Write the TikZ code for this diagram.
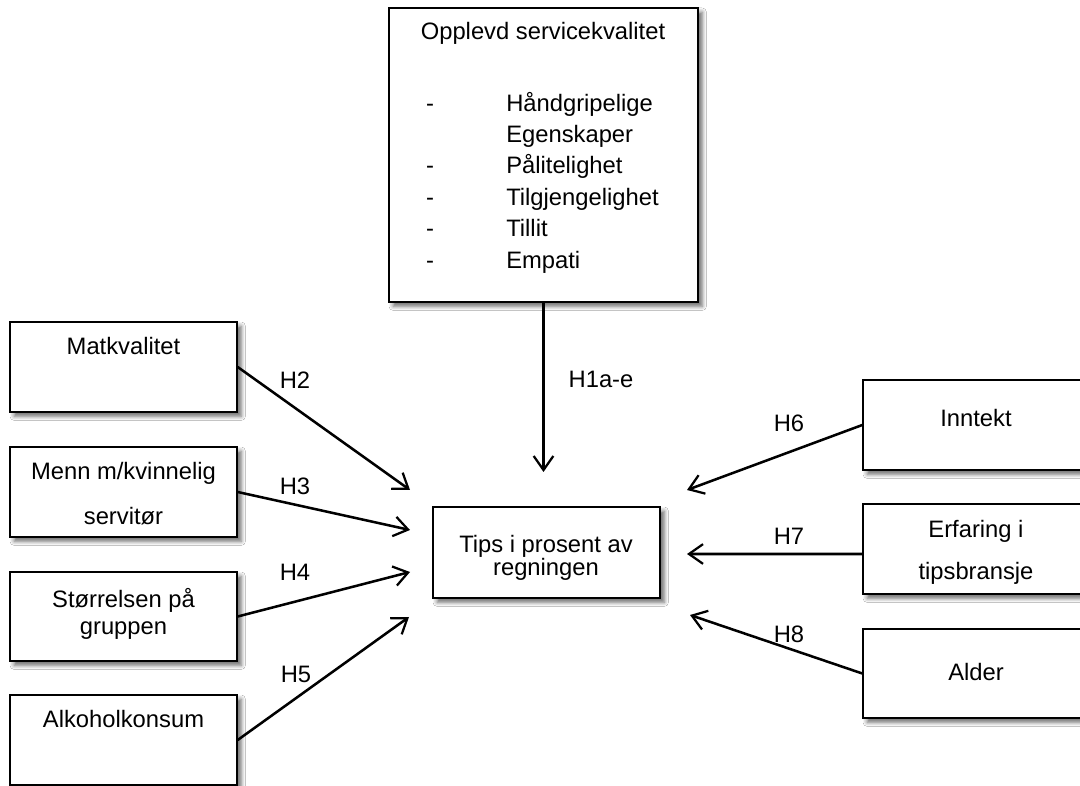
\documentclass[tikz,border=0pt]{standalone}
\usepackage{fontspec}
\setmainfont{Liberation Sans}
\usetikzlibrary{arrows.meta,shadows.blur}
\begin{document}
\begin{tikzpicture}[x=0.025cm,y=-0.025cm,
  box/.style={draw=black, line width=1pt, fill=white, minimum width=#1*0.025cm, inner sep=0pt,
    blur shadow={shadow xshift=3pt, shadow yshift=-3pt, shadow blur radius=3pt, shadow opacity=60}},
  txt/.style={font=\fontsize{16.9pt}{22pt}\selectfont, inner sep=0pt, text height=12pt, text depth=2pt},
  lbl/.style={font=\fontsize{16.9pt}{20pt}\selectfont, inner sep=0pt, text height=12pt, text depth=2pt},
  conn/.style={line width=1.8pt, -{Straight Barb[length=10pt,width=14pt,line width=1.6pt]}}]
\clip (0,0) rectangle (1080,786);
\fill[white] (0,0) rectangle (1080,786);
% boxes
\node[box=309, minimum height=294*0.025cm] (top) at (543.5,155) {};
\node[box=227, minimum height=90*0.025cm] (mat) at (123.5,367) {};
\node[box=227, minimum height=90*0.025cm] (menn) at (123.5,492) {};
\node[box=227, minimum height=89*0.025cm] (stor) at (123.5,616.5) {};
\node[box=227, minimum height=90*0.025cm] (alk) at (123.5,740) {};
\node[box=227, minimum height=91*0.025cm] (tips) at (546.5,552.5) {};
\node[box=227, minimum height=90*0.025cm] (inn) at (976.5,425) {};
\node[box=227, minimum height=90*0.025cm] (erf) at (976.5,549) {};
\node[box=227, minimum height=89*0.025cm] (ald) at (976.5,673.5) {};
% texts
\node[txt] (topt) at (543,32) {Opplevd servicekvalitet};
\foreach \i/\w in {0/Håndgripelige,2/Pålitelighet,3/Tilgjengelighet,4/Tillit,5/Empati}{
  \node[txt] (d\i) at (430,104+31.4*\i) {-};
  \node[txt, anchor=west] (w\i) at (506,104+31.4*\i) {\w};
}
\node[txt, anchor=west] (w1) at (506,135.4) {Egenskaper};
\node[txt] (matt) at (123.5,347) {Matkvalitet};
\node[txt] (menn1) at (123.5,472) {Menn m/kvinnelig};
\node[txt] (menn2) at (123.5,517) {servitør};
\node[txt] (stor1) at (123.5,600) {Størrelsen på};
\node[txt] (stor2) at (123.5,627) {gruppen};
\node[txt] (alkt) at (123.5,720) {Alkoholkonsum};
\node[txt] (tips1) at (546,545) {Tips i prosent av};
\node[txt] (tips2) at (546,568) {regningen};
\node[txt] (innt) at (976,419) {Inntekt};
\node[txt] (erf1) at (976,530) {Erfaring i};
\node[txt] (erf2) at (976,572) {tipsbransje};
\node[txt] (aldt) at (976,673) {Alder};
% connector tips
\coordinate (t1) at (543.5,472);
\coordinate (t2) at (410,490);
\coordinate (t3) at (410,530);
\coordinate (t4) at (410,572);
\coordinate (t5) at (409,617);
\coordinate (t6) at (687,490);
\coordinate (t7) at (687,554);
\coordinate (t8) at (690,615);
\draw[conn] (top.south) -- (t1);
\draw[conn] (mat.east) -- (t2);
\draw[conn] (menn.east) -- (t3);
\draw[conn] (stor.east) -- (t4);
\draw[conn] (alk.east) -- (t5);
\draw[conn] (inn.west) -- (t6);
\draw[conn] ([yshift=-3.56pt]erf.west) -- (t7);
\draw[conn] (ald.west) -- (t8);
% labels
\node[lbl] (h1) at (601,380) {H1a-e};
\node[lbl] (h2) at (295,381) {H2};
\node[lbl] (h3) at (295,487) {H3};
\node[lbl] (h4) at (295,573) {H4};
\node[lbl] (h5) at (296,675) {H5};
\node[lbl] (h6) at (789,424) {H6};
\node[lbl] (h7) at (789,537) {H7};
\node[lbl] (h8) at (789,635) {H8};
\end{tikzpicture}
\end{document}
